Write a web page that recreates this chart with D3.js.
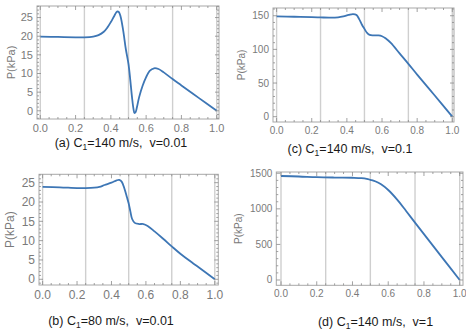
<!DOCTYPE html>
<html>
  <head>
    <meta charset="utf-8" />
    <title>Pressure profiles</title>
    <script src="https://d3js.org/d3.v7.min.js" charset="utf-8"></script>
    <style>
      body { margin: 0; background: #fff; }
      svg { display: block; font-family: "Liberation Sans", Arial, sans-serif; }
      .tick-label { fill: #7a7a7a; }
      .caption { fill: #1a1a1a; white-space: pre; }
    </style>
  </head>
  <body>
    <svg id="chart" width="466" height="333"></svg>
    <script>
      // x positions and pressures
      const xsA = [0, 0.1, 0.2, 0.25, 0.3, 0.33, 0.36, 0.38, 0.4, 0.42, 0.435, 0.445, 0.455, 0.47, 0.485, 0.5, 0.51, 0.52, 0.528, 0.534, 0.54, 0.548, 0.56, 0.58, 0.6, 0.62, 0.645, 0.67, 0.7, 0.75, 0.8, 0.9, 1.0];
      const pA = [19.9, 19.8, 19.7, 19.7, 19.9, 20.3, 21.2, 22.3, 23.8, 25.5, 26.6, 26.5, 25.3, 21.5, 16.5, 12.5, 8.3, 3.6, 0.6, -0.6, -0.4, 1.0, 3.6, 6.7, 9.0, 10.7, 11.4, 11.2, 10.3, 8.5, 6.8, 3.4, 0];

      const xsB = [0, 0.1, 0.2, 0.25, 0.3, 0.33, 0.36, 0.4, 0.43, 0.445, 0.46, 0.475, 0.49, 0.5, 0.51, 0.52, 0.535, 0.56, 0.585, 0.61, 0.65, 0.7, 0.75, 0.8, 0.875, 0.9, 1.0];
      const pB = [23.9, 23.8, 23.6, 23.6, 23.7, 23.9, 24.4, 25.0, 25.6, 25.7, 25.2, 23.5, 21.2, 19.6, 17.5, 15.6, 14.6, 14.3, 14.3, 13.8, 12.4, 10.5, 8.5, 6.6, 4.1, 3.3, 0];

      const xsC = [0, 0.1, 0.2, 0.25, 0.3, 0.35, 0.38, 0.41, 0.435, 0.455, 0.47, 0.485, 0.5, 0.515, 0.53, 0.55, 0.58, 0.6, 0.62, 0.65, 0.7, 0.75, 0.8, 0.9, 1.0];
      const pC = [149, 148.5, 147.8, 147.5, 147.2, 147.6, 149, 151.2, 152.5, 151, 145, 137, 130.5, 124.5, 121.5, 120.8, 120.8, 119.5, 116.5, 109.5, 94, 78.5, 62.5, 31.5, 0];

      const xsD = [0, 0.1, 0.2, 0.3, 0.4, 0.45, 0.48, 0.5, 0.53, 0.56, 0.6, 0.65, 0.7, 0.75, 0.8, 0.9, 1.0];
      const pD = [1462, 1455, 1445, 1440, 1437, 1432, 1422, 1408, 1385, 1345, 1265, 1130, 970, 806, 645, 322, 0];

      const xTicks = [0, 0.2, 0.4, 0.6, 0.8, 1.0];
      const gridXs = [0, 0.25, 0.5, 0.75, 1.0];
      const yTicksA = [0, 5, 10, 15, 20, 25];
      const yTicksB = [0, 5, 10, 15, 20, 25];
      const yTicksC = [0, 50, 100, 150];
      const yTicksD = [0, 500, 1000, 1500];

      const panels = [
        { xs: xsA, ys: pA, yTicks: yTicksA, yMinorStep: 1, yDomain: [-2.2, 28.1],
          frame: { l: 37, r: 219, t: 6, b: 119 }, xr: [40.3, 216.7],
          tickFont: 11, labelFont: 11, yLabelX: 11, capX: 121, capY: 147,
          cap: ["(a) C", "1", "=140 m/s,  v=0.01"] },
        { xs: xsC, ys: pC, yTicks: yTicksC, yMinorStep: 10, yDomain: [-7.9, 161.5],
          frame: { l: 273, r: 454, t: 8, b: 122 }, xr: [276.6, 452.3],
          tickFont: 10, labelFont: 10, yLabelX: 241, capX: 350, capY: 152.5,
          cap: ["(c) C", "1", "=140 m/s,  v=0.1"] },
        { xs: xsB, ys: pB, yTicks: yTicksB, yMinorStep: 1, yDomain: [-1.48, 27.17],
          frame: { l: 39, r: 218.3, t: 174.3, b: 285 }, xr: [42.6, 214.8],
          tickFont: 12, labelFont: 12, yLabelX: 10, capX: 111, capY: 324.5,
          cap: ["(b) C", "1", "=80 m/s,  v=0.01"] },
        { xs: xsD, ys: pD, yTicks: yTicksD, yMinorStep: 100, yDomain: [-74.5, 1518],
          frame: { l: 276.3, r: 463, t: 172, b: 285.3 }, xr: [281, 459.7],
          tickFont: 10, labelFont: 10, yLabelX: 238, capX: 375.5, capY: 326,
          cap: ["(d) C", "1", "=140 m/s,  v=1"] }
      ];

      const svg = d3.select("#chart");
      const lineColor = "#3d76b5";

      panels.forEach((p) => drawPanel(p));

      function drawPanel(p) {
        const f = p.frame;
        const g = svg.append("g");
        const x = d3.scaleLinear().domain([0, 1]).range(p.xr);
        const y = d3.scaleLinear().domain(p.yDomain).range([f.b, f.t]);

        // grid lines
        g.selectAll(".grid")
          .data(gridXs)
          .enter()
          .append("line")
          .attr("x1", (d) => x(d))
          .attr("x2", (d) => x(d))
          .attr("y1", f.t)
          .attr("y2", f.b)
          .attr("stroke", "#cfcfcf")
          .attr("stroke-width", 1.4);

        // curve
        const line = d3
          .line()
          .x((d, i) => x(p.xs[i]))
          .y((d) => y(d))
          .curve(d3.curveCatmullRom.alpha(0.5));

        g.append("path")
          .datum(p.ys)
          .attr("fill", "none")
          .attr("stroke", lineColor)
          .attr("stroke-width", 1.8)
          .attr("stroke-linejoin", "round")
          .attr("d", line);

        // frame
        g.append("rect")
          .attr("x", f.l)
          .attr("y", f.t)
          .attr("width", f.r - f.l)
          .attr("height", f.b - f.t)
          .attr("fill", "none")
          .attr("stroke", "#a8a8a8")
          .attr("stroke-width", 1);

        // x ticks (major + minor) on top and bottom, pointing inward
        const xMinor = d3.range(0, 1.0001, 0.05);
        xMinor.forEach((v) => {
          const major = xTicks.some((t) => Math.abs(t - v) < 1e-6);
          const len = major ? 4 : 2;
          [[f.b, -len], [f.t, len]].forEach(([y0, dl]) => {
            g.append("line")
              .attr("x1", x(v)).attr("x2", x(v))
              .attr("y1", y0).attr("y2", y0 + dl)
              .attr("stroke", "#8a8a8a").attr("stroke-width", 0.8);
          });
        });

        // y ticks (major + minor) on left and right
        const yMax = p.yTicks[p.yTicks.length - 1];
        const yMinor = d3.range(0, yMax + p.yMinorStep * 4 + 1e-6, p.yMinorStep)
          .filter((v) => y(v) >= f.t && y(v) <= f.b);
        const yMinorNeg = d3.range(-p.yMinorStep, p.yDomain[0], -p.yMinorStep);
        yMinor.concat(yMinorNeg).forEach((v) => {
          const major = p.yTicks.some((t) => Math.abs(t - v) < 1e-6);
          const len = major ? 4 : 2;
          [[f.l, len], [f.r, -len]].forEach(([x0, dl]) => {
            g.append("line")
              .attr("x1", x0).attr("x2", x0 + dl)
              .attr("y1", y(v)).attr("y2", y(v))
              .attr("stroke", "#8a8a8a").attr("stroke-width", 0.8);
          });
        });

        // tick labels
        g.selectAll(".xl")
          .data(xTicks)
          .enter()
          .append("text")
          .attr("class", "tick-label")
          .attr("x", (d) => x(d))
          .attr("y", f.b + 4)
          .attr("dy", "0.8em")
          .attr("text-anchor", "middle")
          .attr("font-size", p.tickFont)
          .text((d) => d3.format(".1f")(d));

        g.selectAll(".yl")
          .data(p.yTicks)
          .enter()
          .append("text")
          .attr("class", "tick-label")
          .attr("x", f.l - 4)
          .attr("y", (d) => y(d))
          .attr("dy", "0.35em")
          .attr("text-anchor", "end")
          .attr("font-size", p.tickFont)
          .text((d) => d);

        // y axis label
        g.append("text")
          .attr("class", "tick-label")
          .attr("transform", `translate(${p.yLabelX}, ${(f.t + f.b) / 2}) rotate(-90)`)
          .attr("dy", "0.35em")
          .attr("text-anchor", "middle")
          .attr("font-size", p.labelFont)
          .text("P(kPa)");

        // caption with subscript
        const cap = g.append("text")
          .attr("class", "caption")
          .attr("x", p.capX)
          .attr("y", p.capY)
          .attr("text-anchor", "middle")
          .attr("font-size", 12.5);
        cap.append("tspan").text(p.cap[0]);
        cap.append("tspan").attr("font-size", 8.5).attr("dy", 3).text(p.cap[1]);
        cap.append("tspan").attr("dy", -3).text(p.cap[2]);
      }
    </script>
  </body>
</html>
